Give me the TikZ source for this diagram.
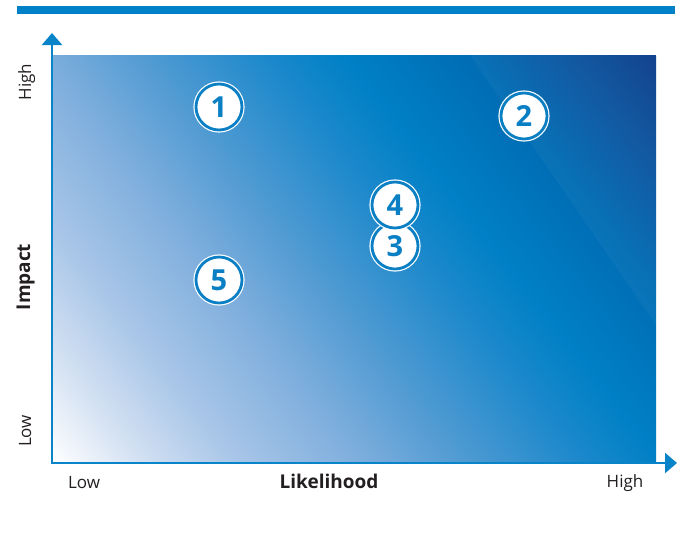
\documentclass[tikz,border=0pt]{standalone}
\usepackage{fontspec}
\setmainfont{Open Sans}
\usetikzlibrary{arrows.meta}
\definecolor{barblue}{HTML}{0080C6}
\definecolor{axisblue}{HTML}{0A84C8}
\definecolor{numblue}{HTML}{0A7FC4}
\definecolor{txt}{HTML}{231F20}
\definecolor{g0}{HTML}{FFFFFF}
\definecolor{g1}{HTML}{D2E0F2}
\definecolor{g2}{HTML}{A9C6E8}
\definecolor{g3}{HTML}{80AFDD}
\definecolor{g4}{HTML}{4F9AD2}
\definecolor{g5}{HTML}{1A88CB}
\definecolor{g6}{HTML}{0080C6}
\definecolor{g7}{HTML}{006CB4}
\definecolor{g8}{HTML}{0A55A0}
\definecolor{g9}{HTML}{0B3C8A}
\pgfdeclarehorizontalshading{riskgrad}{100bp}{color(0bp)=(g0); color(25bp)=(g0); color(30bp)=(g1); color(35bp)=(g2); color(41.5bp)=(g3); color(47.5bp)=(g4); color(54bp)=(g5); color(58bp)=(g6); color(65bp)=(g7); color(70bp)=(g8); color(75bp)=(g9); color(100bp)=(g9)}
\begin{document}
\begin{tikzpicture}[x=1pt,y=-1pt,
  numc/.style={circle, minimum size=46pt, inner sep=0pt, fill=white, draw=numblue, line width=2.8pt, preaction={draw=white, line width=5.2pt}, text=numblue, font=\fontsize{29}{29}\selectfont\bfseries},
  lbl/.style={text=txt, font=\fontsize{17}{17}\selectfont, inner sep=0pt},
  axlbl/.style={text=txt, font=\fontsize{19}{19}\selectfont\bfseries, inner sep=0pt},
  axis/.style={draw=axisblue, line width=2.6pt, line join=miter, {Triangle[length=12pt,width=20pt]}-{Triangle[length=12pt,width=20pt]}}]
\useasboundingbox (0,0) rectangle (684,539);
\fill[barblue] (17,6) rectangle (675,14);
\coordinate (BL) at (52,463);
\coordinate (TR) at (656,55);
\begin{scope}
  \clip (BL) rectangle (TR);
  \begin{scope}[transform canvas={shift={(52,463)}, rotate=38}]
    \shade[shading=riskgrad] (0,-600) rectangle (727.3,600);
  \end{scope}
  \fill[white, opacity=0.035] (470,55) -- (656,55) -- (656,325) -- cycle;
\end{scope}
\coordinate (O) at (52,463);
\coordinate (Ytip) at (52,33);
\coordinate (Xtip) at (677,463);
\draw[axis] (Ytip) -- (O) -- (Xtip);
\node[numc] (n1) at (219,107) {1};
\node[numc] (n2) at (524,116) {2};
\node[numc] (n3) at (395,246) {3};
\node[numc] (n4) at (395,205) {4};
\node[numc] (n5) at (219,280) {5};
\node[lbl, rotate=90, anchor=base] (yhi) at (31,82) {High};
\node[lbl, rotate=90, anchor=base] (ylo) at (31,431) {Low};
\node[axlbl, rotate=90, anchor=base] (imp) at (30,277) {Impact};
\node[lbl, anchor=base] (xlo) at (84,488) {Low};
\node[axlbl, anchor=base] (lik) at (329,488) {Likelihood};
\node[lbl, anchor=base] (xhi) at (625,487) {High};
\end{tikzpicture}
\end{document}
